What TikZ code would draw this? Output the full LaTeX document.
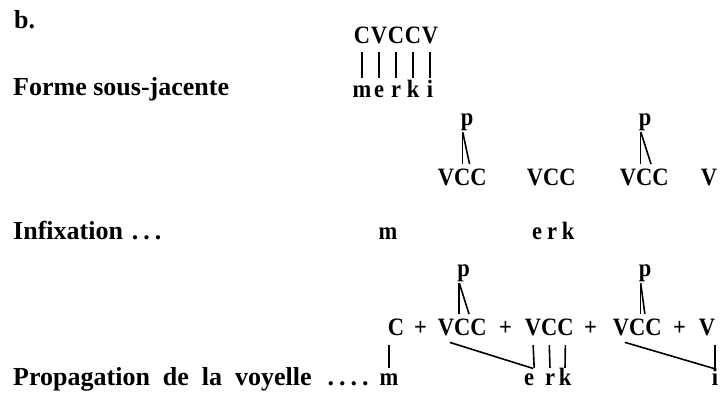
\documentclass[tikz,border=0pt]{standalone}
\usepackage{fontspec}
\setmainfont{Liberation Serif}
\newfontfamily\segfont[FakeStretch=0.9]{Liberation Serif}
\tikzset{
  lbl/.style={anchor=base west, inner sep=0pt, font=\fontsize{26}{30}\selectfont\bfseries},
  seg/.style={anchor=base, inner sep=0pt, text height=16pt, text depth=6pt,
    font=\segfont\fontsize{25}{30}\selectfont\bfseries},
  assoc/.style={line width=1.6pt, shorten <=3pt, shorten >=3pt},
  leg/.style={line width=1.6pt, shorten <=1pt, shorten >=5pt},
}
\begin{document}
\begin{tikzpicture}[x=1pt, y=-1pt]
  \useasboundingbox (0,0) rectangle (722,397);
  % labels
  \node[lbl] (b) at (14,28) {b.};
  \node[lbl] (forme) at (13,95) {Forme sous-jacente};
  \node[lbl] (infix) at (13,239) {Infixation\hspace{9pt}.\hspace{5pt}.\hspace{5pt}.};
  \node[lbl] (prop) at (13,385) {Propagation\hspace{13pt}de\hspace{13pt}la\hspace{13pt}voyelle\hspace{16pt}.\hspace{5pt}.\hspace{5pt}.\hspace{5pt}.};

  % forme sous-jacente
  \foreach \s/\l/\x [count=\i] in {C/m/362,V/e/379,C/r/396,C/k/413,V/i/430} {
    \node[seg] (t\i) at (\x,43) {\s};
    \node[seg] (u\i) at (\x,97) {\l};
    \draw[assoc] (t\i) -- (u\i);
  }

  % gabarit
  \foreach \n/\x in {a/446,b/535,c/628} {
    \node[seg] (v\n) at (\x,185) {V};
    \node[seg] (c\n) at ({\x+16.2},185) {C};
    \node[seg] (d\n) at ({\x+32.4},185) {C};
  }
  \node[seg] (vz) at (709,185) {V};
  \node[seg] (p1) at (467,125) {p};
  \node[seg] (p2) at (645,125) {p};
  \coordinate (ap1) at ([xshift=2pt]p1.south west);
  \coordinate (ap2) at ([xshift=2pt]p2.south west);
  \draw[leg] (ap1) -- (ap1 |- va.north);
  \draw[leg] (ap1) -- (ca.north east);
  \draw[leg] (ap2) -- (ap2 |- vc.north);
  \draw[leg] (ap2) -- (cc.north east);

  % infixation
  \node[seg] (im) at (388,239) {m};
  \node[seg] (ie) at (537,239) {e};
  \node[seg] (ir) at (552,239) {r};
  \node[seg] (ik) at (568,239) {k};

  % propagation
  \node[seg] (c0) at (396,335) {C};
  \foreach \x [count=\i] in {420.5,505.5,590.5,679.5}
    \node[seg] (plus\i) at (\x,335) {+};
  \foreach \n/\x in {e/446,f/533,g/621} {
    \node[seg] (v\n) at (\x,335) {V};
    \node[seg] (c\n) at ({\x+16.2},335) {C};
    \node[seg] (d\n) at ({\x+32.4},335) {C};
  }
  \node[seg] (vl) at (707,335) {V};
  \node[seg] (q1) at (463.5,276) {p};
  \node[seg] (q2) at (645,276) {p};
  \coordinate (aq1) at ([xshift=2pt]q1.south west);
  \coordinate (aq2) at ([xshift=2pt]q2.south west);
  \draw[leg] (aq1) -- (aq1 |- ve.north);
  \draw[leg] (aq1) -- (ce.north east);
  \draw[leg] (aq2) -- (aq2 |- vg.north);
  \draw[leg] (aq2) -- (cg.north east);

  \node[seg] (bm) at (389,385) {m};
  \node[seg] (be) at (529,385) {e};
  \node[seg] (br) at (550,385) {r};
  \node[seg] (bk) at (565,385) {k};
  \node[seg] (bi) at (715,385) {i};
  \draw[assoc, shorten <=4pt, shorten >=1pt] (c0.south -| bm) -- (bm.north);
  \draw[assoc, shorten <=4pt, shorten >=1pt] (ve.south) -- (be.north east);
  \draw[assoc, shorten <=4pt, shorten >=1pt] (vf.south) -- (be.north east);
  \draw[assoc, shorten <=4pt, shorten >=1pt] (cf.south) -- (br.north);
  \draw[assoc, shorten <=4pt, shorten >=1pt] (df.south) -- (bk.north);
  \draw[assoc, shorten <=4pt, shorten >=1pt] (vg.south) -- (bi.north);
  \draw[assoc, shorten <=4pt, shorten >=1pt] (vl.south -| bi) -- (bi.north);
\end{tikzpicture}
\end{document}
